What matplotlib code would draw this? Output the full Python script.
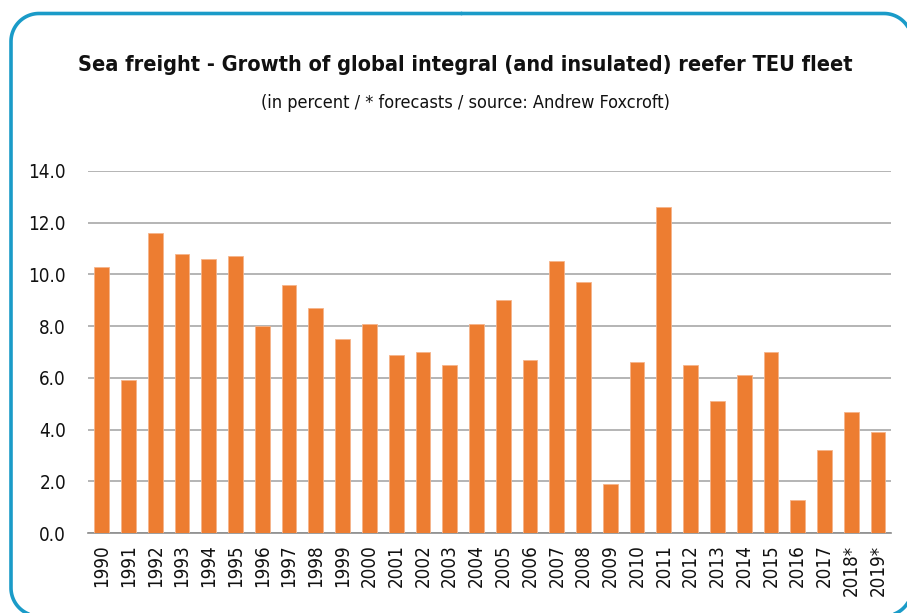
import matplotlib
matplotlib.use("Agg")
import matplotlib.pyplot as plt
import numpy as np

years = ["1990", "1991", "1992", "1993", "1994", "1995", "1996", "1997", "1998", "1999",
         "2000", "2001", "2002", "2003", "2004", "2005", "2006", "2007", "2008", "2009",
         "2010", "2011", "2012", "2013", "2014", "2015", "2016", "2017", "2018*", "2019*"]
growth = [10.3, 5.9, 11.6, 10.8, 10.6, 10.7, 8.0, 9.6, 8.7, 7.5,
          8.1, 6.9, 7.0, 6.5, 8.1, 9.0, 6.7, 10.5, 9.7, 1.9,
          6.6, 12.6, 6.5, 5.1, 6.1, 7.0, 1.3, 3.2, 4.7, 3.9]
yticks = [0, 2, 4, 6, 8, 10, 12, 14]

title = "Sea freight - Growth of global integral (and insulated) reefer TEU fleet"
subtitle = "(in percent / * forecasts / source: Andrew Foxcroft)"

plt.rcParams['font.family'] = ['DejaVu Sans']
plt.rcParams['font.stretch'] = 'condensed'

fig = plt.figure(figsize=(9.07, 6.13), dpi=100)


def rounded_frame(x0, y0, x1, y1, r):
    # outline of a rounded rectangle, pixel coords with y pointing down
    xs, ys = [(x0 + x1) / 2], [y0]
    corners = [(x1 - r, y0 + r, -90, 0), (x1 - r, y1 - r, 0, 90),
               (x0 + r, y1 - r, 90, 180), (x0 + r, y0 + r, 180, 270)]
    for cx, cy, a0, a1 in corners:
        t = np.radians(np.linspace(a0, a1, 30))
        xs.extend(cx + r * np.cos(t))
        ys.extend(cy + r * np.sin(t))
    xs.append(xs[0])
    ys.append(ys[0])
    return xs, ys


bg = fig.add_axes([0, 0, 1, 1], zorder=-1)
bg.set_xlim(0, 907)
bg.set_ylim(613, 0)
bg.axis("off")
fx, fy = rounded_frame(11, 13.5, 912, 616, 28)
bg.plot(fx, fy, color="#1a9bc8", linewidth=2.6, solid_joinstyle="round",
        solid_capstyle="round")

fig.text(0.5127, 1 - 65 / 613, title, ha="center", va="center",
         fontsize=15.6, fontweight="bold", color="#111111")
fig.text(0.5127, 1 - 103 / 613, subtitle, ha="center", va="center",
         fontsize=13, color="#111111")

ax = fig.add_axes([88.3 / 907, 1 - 533.3 / 613, (891.4 - 88.3) / 907, (533.3 - 170.7) / 613])
ax.set_facecolor("none")
x = list(range(len(years)))
ax.bar(x, growth, width=0.55, color="#ed7d31", edgecolor="#f6b48a", linewidth=0.6, zorder=3)

ax.set_ylim(0, 14)
ax.set_xlim(-0.5, len(years) - 0.5)
ax.set_yticks(yticks)
ax.set_yticklabels(["%.1f" % v for v in yticks], fontsize=13.5)
ax.set_xticks(x)
ax.set_xticklabels(years, rotation=90, fontsize=13.5)
ax.tick_params(axis="both", length=0, colors="#111111")
ax.tick_params(axis="y", pad=16)
ax.tick_params(axis="x", pad=8)

ax.grid(axis="y", color="#a0a0a0", linewidth=1.1, zorder=0)
for s in ["top", "right", "left"]:
    ax.spines[s].set_visible(False)
ax.spines["bottom"].set_color("#8c8c8c")
ax.spines["bottom"].set_linewidth(1.2)

fig.savefig("out.png", dpi=100)
